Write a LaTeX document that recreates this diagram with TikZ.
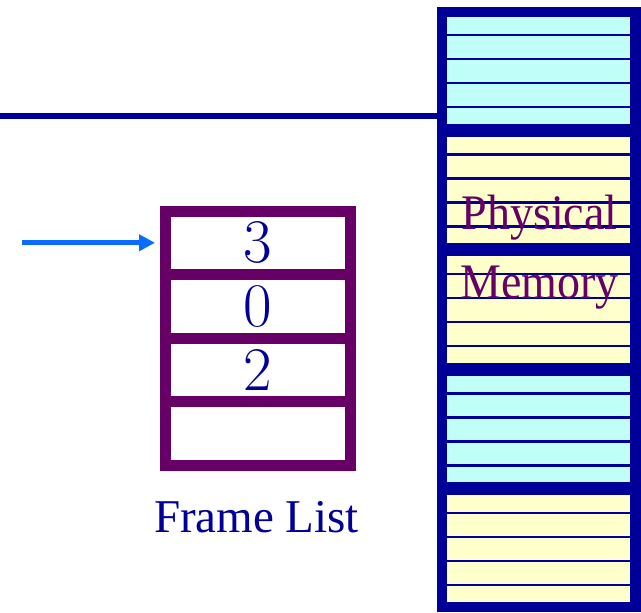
\documentclass[tikz,border=0pt]{standalone}
\usepackage{fontspec}
\newfontfamily\tnr{Liberation Serif}
\usetikzlibrary{arrows.meta}
\definecolor{navy}{HTML}{000099}
\definecolor{plum}{HTML}{660066}
\definecolor{ptrblue}{HTML}{0A6CFF}
\definecolor{cellcyan}{HTML}{C0FFF8}
\definecolor{cellyellow}{HTML}{FFFFCC}

\begin{document}
\begin{tikzpicture}[x=1pt,y=-1pt,
  slot/.style={draw=plum, line width=11pt, minimum width=185pt,
    minimum height=63.6pt, inner sep=0pt,
    font=\fontsize{62}{62}\selectfont, text=navy},
  memtext/.style={anchor=base, inner sep=0pt, text=plum,
    font=\tnr\fontsize{46}{46}\selectfont},
  ptr/.style={ptrblue, line width=5pt, shorten >=5pt,
    -{Triangle[length=16pt,width=16pt]}},
  slotline/.style={navy, line width=2.5pt}]
\useasboundingbox (0,0) rectangle (641,613);

% physical memory column: navy frame with five page frames
\node[fill=navy, minimum width=204pt, minimum height=605pt,
      inner sep=0pt, outer sep=0pt] (mem) at (539,309.5) {};
\foreach \k/\col in {0/cellcyan,1/cellyellow,2/cellyellow,3/cellcyan,4/cellyellow}{
  \pgfmathsetmacro\t{17+119.5*\k}
  \fill[\col] (447,\t) rectangle (630,\t+106.5);
  \foreach \o in {18,42,66,90}
    \draw[slotline] (447,\t+\o) -- (630,\t+\o);
}
\node[memtext] (phys) at (539.5,229) {\scalebox{1}[1.08]{Physical}};
\node[memtext] (memlbl) at (539.5,298) {\scalebox{1}[1.08]{Memory}};

% bus line into the memory
\coordinate (bus) at (0,116);
\draw[navy, line width=6pt] (bus) -- (bus -| mem.west);

% free frame list
\node[slot] (c1) at (258,242.8) {3};
\node[slot] (c2) at (258,306.4) {0};
\node[slot] (c3) at (258,370.0) {2};
\node[slot] (c4) at (258,433.6) {};
\node[anchor=base, inner sep=0pt, text=navy,
      font=\tnr\fontsize{47}{47}\selectfont] (fl) at (256.5,532) {Frame List};

% head pointer
\coordinate (head) at (22,242.8);
\draw[ptr] (head) -- (c1.west);
\end{tikzpicture}
\end{document}
